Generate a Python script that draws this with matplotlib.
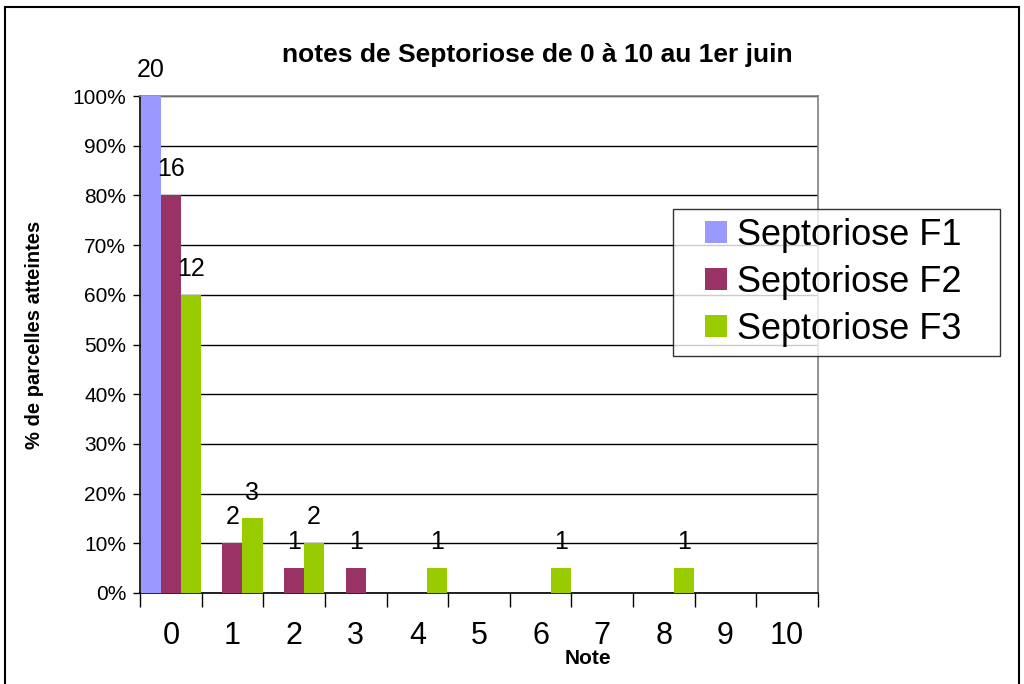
import matplotlib
matplotlib.use("Agg")
import matplotlib.pyplot as plt
from matplotlib.patches import Rectangle
from matplotlib.legend_handler import HandlerPatch
import numpy as np

plt.rcParams['font.family'] = ['Liberation Sans', 'DejaVu Sans']

notes = list(range(11))
tick_labels = [str(n) for n in notes]
series_names = ["Septoriose F1", "Septoriose F2", "Septoriose F3"]
counts_f1 = [20, 0, 0, 0, 0, 0, 0, 0, 0, 0, 0]
counts_f2 = [16, 2, 1, 1, 0, 0, 0, 0, 0, 0, 0]
counts_f3 = [12, 3, 2, 0, 1, 0, 1, 0, 1, 0, 0]
total_parcelles = 20
colors = ["#9999FF", "#993366", "#99CC00"]

fig = plt.figure(figsize=(10.24, 6.84), dpi=100)
fig.patches.append(Rectangle((5/1024, -0.01), (1019-5)/1024, 1 - 7/684 + 0.01,
                             transform=fig.transFigure, fill=False,
                             edgecolor='black', linewidth=1.5, zorder=0))

ax = fig.add_axes([140/1024, 1 - 593/684, (818-140)/1024, (593-96)/684])

x = np.arange(len(notes))
w = 0.325
handles = []
for i, (counts, name, c) in enumerate(zip([counts_f1, counts_f2, counts_f3], series_names, colors)):
    vals = np.array(counts) / total_parcelles * 100
    pos = x + (i - 1) * w
    b = ax.bar(pos, vals, width=w, color=c, label=name, zorder=3)
    handles.append(b)
    for p, v, cnt in zip(pos, vals, counts):
        if cnt > 0:
            ax.text(p, v + 2.8, str(cnt), ha='center', va='bottom', fontsize=18, zorder=4)

ax.set_xlim(-0.5, 10.5)
ax.set_ylim(0, 100)
ax.set_yticks(np.arange(0, 101, 10))
ax.set_yticklabels([f"{v}%" for v in range(0, 101, 10)], fontsize=15)
ax.yaxis.grid(True, color='black', linewidth=1, zorder=1)
ax.set_axisbelow(True)

ax.set_xticks(np.arange(-0.5, 10.6, 1))
ax.set_xticklabels([])
ax.set_xticks(x, minor=True)
ax.set_xticklabels(tick_labels, minor=True, fontsize=22)
ax.tick_params(axis='x', which='major', length=10, width=1, direction='out', color='black')
ax.tick_params(axis='x', which='minor', length=0, pad=20)
ax.tick_params(axis='y', length=5, width=1, direction='out', pad=5)

for s in ['top', 'right']:
    ax.spines[s].set_color('#808080')
    ax.spines[s].set_linewidth(1.2)
for s in ['left', 'bottom']:
    ax.spines[s].set_color('black')
    ax.spines[s].set_linewidth(1.2)

ax.set_xlabel("Note", fontsize=15, fontweight='bold')
ax.xaxis.set_label_coords((588 - 140) / 678, -(658 - 593) / 497)
ax.xaxis.label.set_va('center')
ax.set_ylabel("% de parcelles atteintes", fontsize=14.5, fontweight='bold')
ax.yaxis.set_label_coords((35 - 140) / 678, (593 - 335) / 497)
ax.yaxis.label.set_va('center')

fig.text(537/1024, 1 - 55/684, "notes de Septoriose de 0 à 10 au 1er juin",
         ha='center', va='center', fontsize=19, fontweight='bold')


def square_right(legend, orig_handle, xdescent, ydescent, width, height, fontsize):
    sq = height
    return Rectangle((-xdescent + width - sq, -ydescent), sq, sq)


leg = fig.legend(handles=[h.patches[0] for h in handles], labels=series_names,
                 loc='upper left',
                 bbox_to_anchor=(673/1024, 1 - 355/684, (1000-673)/1024, (355-209)/684),
                 mode='expand',
                 fontsize=26, frameon=True, fancybox=False, edgecolor='black',
                 handlelength=1.25, handleheight=0.55, handletextpad=0.28,
                 borderpad=0.25, labelspacing=0.33, borderaxespad=0,
                 handler_map={Rectangle: HandlerPatch(patch_func=square_right)})
leg.get_frame().set_linewidth(1)

fig.savefig("out.png", dpi=100)
